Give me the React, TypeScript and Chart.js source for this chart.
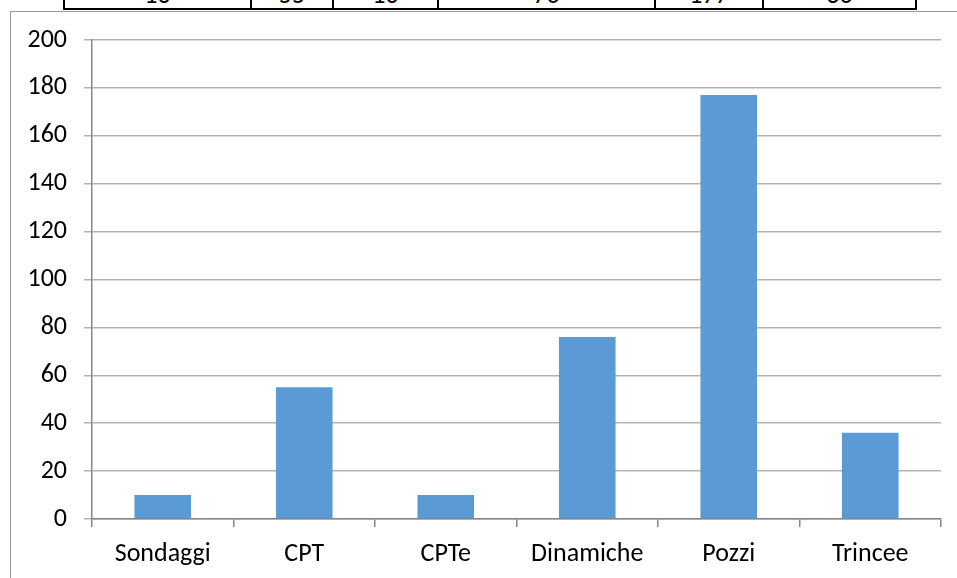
import React, { useEffect, useRef } from "react";
import { Chart, registerables } from "chart.js";

Chart.register(...registerables);

const categories = ["Sondaggi", "CPT", "CPTe", "Dinamiche", "Pozzi", "Trincee"];
const values = [10, 55, 10, 76, 177, 36];
const yTicks = [0, 20, 40, 60, 80, 100, 120, 140, 160, 180, 200];
// cell borders of the cropped table row above the chart (x positions in px)
const tableEdges = [64, 251, 333, 438, 655, 763, 916];

const FONT = "Carlito, Lato, 'Open Sans', sans-serif";

export default function App() {
  const ref = useRef<HTMLCanvasElement | null>(null);

  useEffect(() => {
    document.body.style.margin = "0";
    const canvas = ref.current;
    if (!canvas) return;
    const chart = new Chart(canvas, {
      type: "bar",
      data: {
        labels: categories,
        datasets: [
          {
            data: values,
            backgroundColor: "#5B9BD5",
            borderWidth: 0,
            categoryPercentage: 1,
            barPercentage: 0.4,
          },
        ],
      },
      options: {
        animation: false,
        responsive: false,
        devicePixelRatio: 1,
        layout: { padding: { top: 40, right: 16, bottom: 0, left: 0 } },
        plugins: { legend: { display: false }, tooltip: { enabled: false } },
        scales: {
          y: {
            min: 0,
            max: 200,
            afterBuildTicks: (s: any) => {
              s.ticks = yTicks.map((v) => ({ value: v }));
            },
            afterFit: (s: any) => {
              s.width = 92;
            },
            ticks: {
              color: "#000",
              font: { family: FONT, size: 26 },
              padding: 17,
            },
            grid: { color: "#b3b3b3", lineWidth: 1.5, tickLength: 8 },
            border: { color: "#868686", width: 1.5 },
          },
          x: {
            afterFit: (s: any) => {
              s.height = 59;
            },
            ticks: {
              color: "#000",
              font: { family: FONT, size: 26 },
              padding: 12,
              maxRotation: 0,
            },
            grid: {
              offset: true,
              drawOnChartArea: false,
              color: "#868686",
              lineWidth: 1.5,
              tickLength: 8,
            },
            border: { color: "#868686", width: 1.5 },
          },
        },
      },
    });
    return () => chart.destroy();
  }, []);

  const cells = tableEdges.slice(0, -1).map((x, i) => ({
    left: x,
    width: tableEdges[i + 1] - x,
    value: values[i],
  }));

  return (
    <div
      style={{
        position: "fixed",
        left: 0,
        top: 0,
        width: 957,
        height: 578,
        overflow: "hidden",
        background: "#fff",
        fontFamily: FONT,
      }}
    >
      {/* cropped table row */}
      {cells.map((c, i) => (
        <div
          key={i}
          style={{
            position: "absolute",
            left: c.left,
            width: c.width,
            top: -17,
            height: 26,
            textAlign: "center",
            fontSize: 26,
            lineHeight: "22px",
            color: "#000",
            overflow: "hidden",
          }}
        >
          {c.value}
        </div>
      ))}
      {tableEdges.map((x, i) => (
        <div
          key={"v" + i}
          style={{ position: "absolute", left: x - 1, top: 0, width: 2, height: 10, background: "#000" }}
        />
      ))}
      <div
        style={{
          position: "absolute",
          left: tableEdges[0] - 1,
          top: 8,
          width: tableEdges[tableEdges.length - 1] - tableEdges[0] + 2,
          height: 2,
          background: "#000",
        }}
      />
      {/* chart frame */}
      <div
        style={{
          position: "absolute",
          left: 10,
          top: 11,
          width: 1000,
          height: 700,
          borderLeft: "1.5px solid #9a9a9a",
          borderTop: "1.5px solid #9a9a9a",
        }}
      />
      <canvas
        ref={ref}
        width={957}
        height={578}
        style={{ position: "absolute", left: 0, top: 0, width: 957, height: 578 }}
      />
    </div>
  );
}
